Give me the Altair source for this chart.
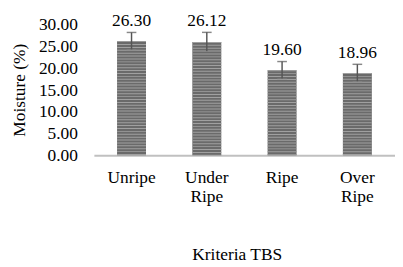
import altair as alt
import pandas as pd

categories = ["Unripe", "Under Ripe", "Ripe", "Over Ripe"]
moisture = [26.30, 26.12, 19.60, 18.96]
errors = [2.0, 2.2, 2.0, 2.0]
y_ticks = [0, 5, 10, 15, 20, 25, 30]

df = pd.DataFrame({"cat": categories, "val": moisture, "err": errors})
df["lo"] = df["val"] - df["err"]
df["hi"] = df["val"] + df["err"]
df["lab"] = df["val"].map(lambda v: f"{v:.2f}")

FONT = "Times New Roman, Liberation Serif, DejaVu Serif, serif"
FS = 18

common = dict(labelFont=FONT, labelFontSize=FS, labelColor="#000", titleFont=FONT,
              titleFontSize=FS, titleFontWeight="normal", titleColor="#000")
x_axis = alt.Axis(title="Kriteria TBS", labelAngle=0, ticks=False, domainColor="#c0c0c0",
                  domainWidth=2, labelPadding=14, labelExpr="split(datum.label, ' ')",
                  labelLineHeight=20, titleX=148, titleY=103, titleBaseline="middle", **common)
y_axis = alt.Axis(title="Moisture (%)", values=y_ticks, format=".2f", grid=False,
                  ticks=False, domain=False, labelPadding=17, labelOverlap=False,
                  titleX=-77, titleY=67, titleBaseline="middle", **common)
y_scale = alt.Scale(domain=[0, 30], nice=False)


def X():
    return alt.X("cat:N", sort=categories, scale=alt.Scale(paddingInner=0.62, paddingOuter=0.31),
                 axis=x_axis)


def Y(field):
    return alt.Y(field, scale=y_scale, axis=y_axis, title="Moisture (%)")


base = alt.Chart(df)
bars = base.mark_bar(color="#6a6a6a", size=30).encode(x=X(), y=Y("val:Q"))
stripes = base.mark_rule(color="#a0a0a0", strokeWidth=30, strokeDash=[1, 2], strokeCap="butt").encode(
    x=X(), y=Y("val:Q"), y2=alt.datum(0))
err = base.mark_rule(color="#555555", strokeWidth=1.5).encode(
    x=X(), y=Y("lo:Q"), y2="hi:Q")
caps = base.mark_tick(color="#555555", size=10, thickness=1.5, orient="horizontal").encode(
    x=X(), y=Y("hi:Q"))
capslo = base.mark_tick(color="#888888", size=10, thickness=1, orient="horizontal").encode(
    x=X(), y=Y("lo:Q"))
labels = base.mark_text(font=FONT, fontSize=FS, color="#000", baseline="bottom", dy=-3).encode(
    x=X(), y=Y("hi:Q"), text="lab:N")

chart = alt.layer(bars, stripes, err, capslo, caps, labels).properties(
    width=312, height=135,
    background="white",
    autosize=alt.AutoSizeParams(type="none"),
    padding={"left": 89, "top": 13, "right": 0, "bottom": 111},
).configure_view(stroke=None).configure_axis(labelOverlap=False, labelBound=False)

chart.save("out.html", embed_options={"renderer": "svg", "actions": False})
